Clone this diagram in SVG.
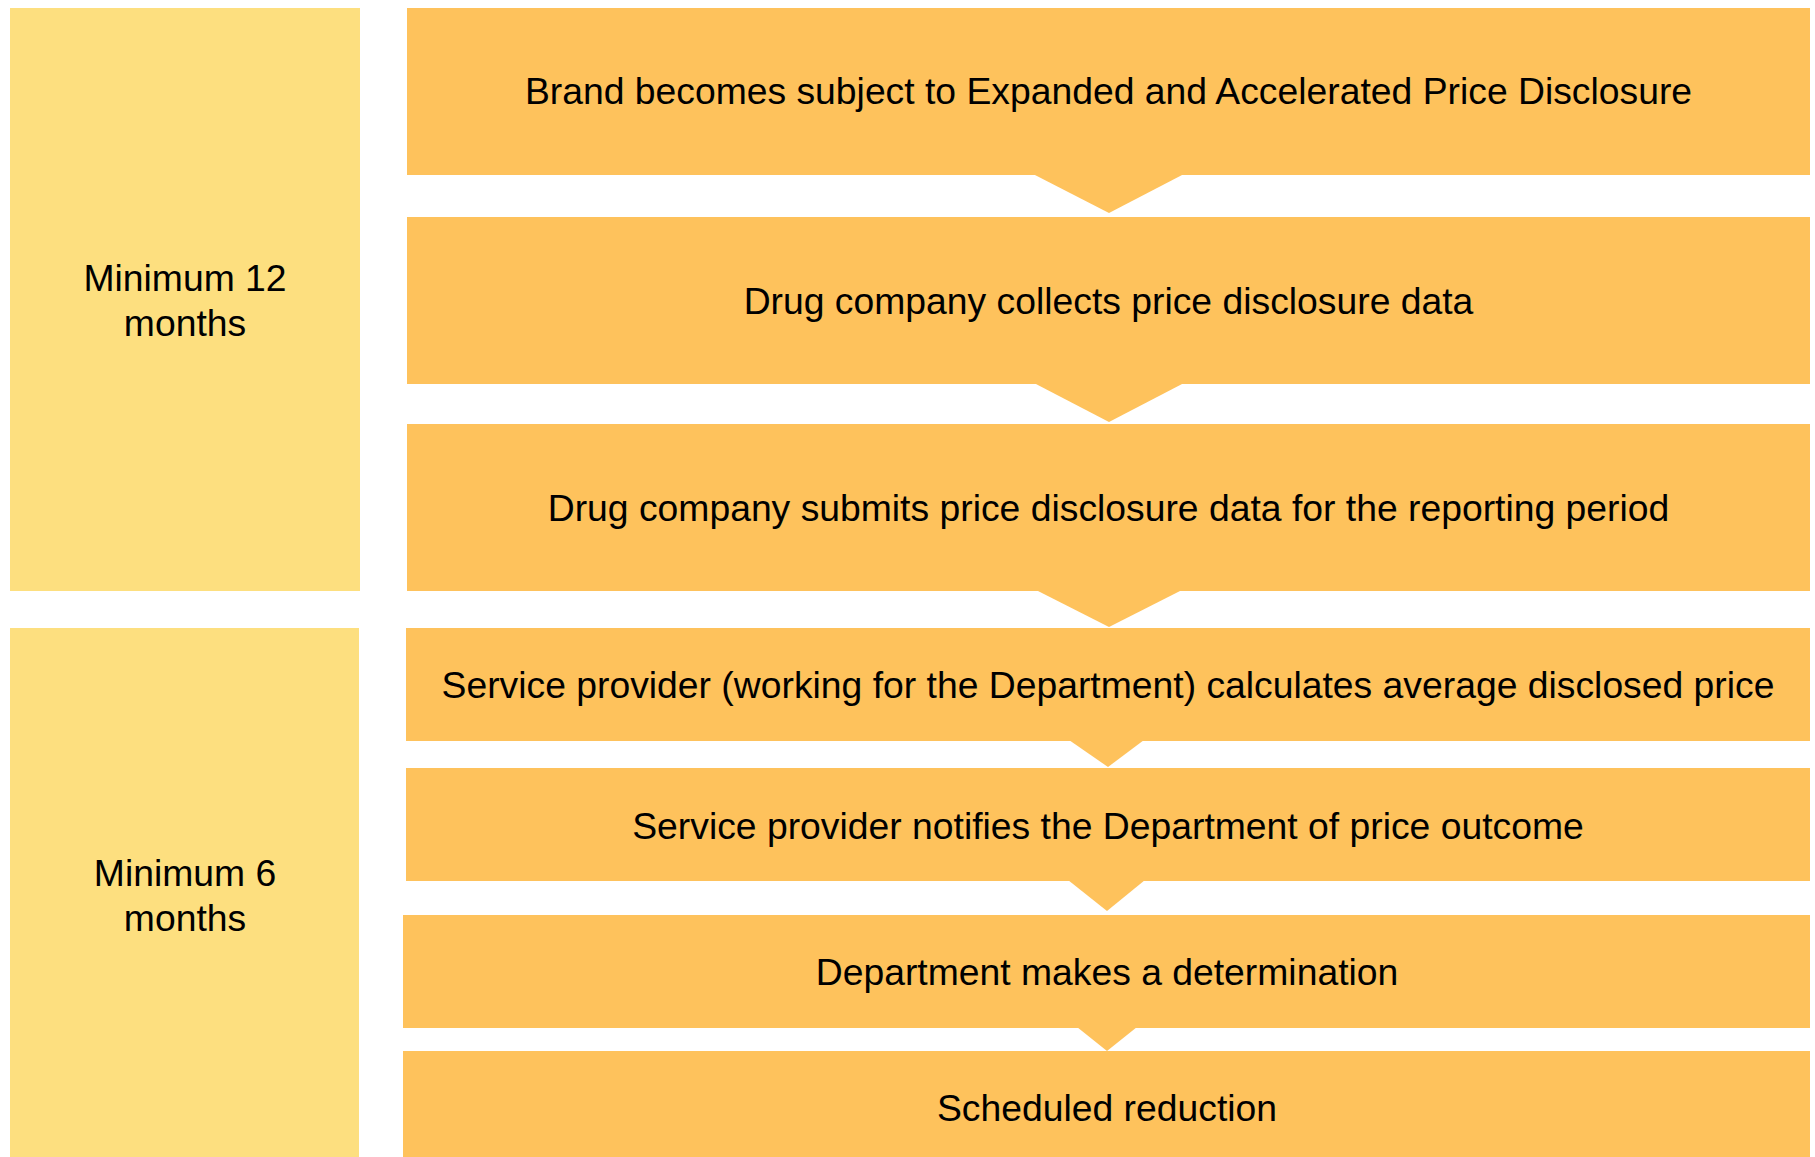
<svg xmlns="http://www.w3.org/2000/svg" width="1815" height="1157" viewBox="0 0 1815 1157">
<style>
.side{fill:#FDDF7F}
.step{fill:#FEC25C}
.chev{fill:#FEC25C}
text{font-family:"Liberation Sans",Arial,sans-serif;font-size:37.3px;fill:#000;text-anchor:middle}
</style>
<rect width="1815" height="1157" fill="#fff"/>
<g id="period-12">
<rect class="side" x="10" y="8" width="350" height="583"/>
<text x="185" y="291">Minimum 12</text>
<text x="185" y="336">months</text>
</g>
<g id="period-6">
<rect class="side" x="10" y="628" width="349" height="529"/>
<text x="185" y="886">Minimum 6</text>
<text x="185" y="931">months</text>
</g>
<g id="step1">
<rect class="step" x="407" y="8" width="1403" height="167"/>
<text x="1108.5" y="104">Brand becomes subject to Expanded and Accelerated Price Disclosure</text>
</g>
<g id="step2">
<rect class="step" x="407" y="217" width="1403" height="167"/>
<text x="1108.5" y="314">Drug company collects price disclosure data</text>
</g>
<g id="step3">
<rect class="step" x="407" y="424" width="1403" height="167"/>
<text x="1108.5" y="521">Drug company submits price disclosure data for the reporting period</text>
</g>
<g id="step4">
<rect class="step" x="406" y="628" width="1404" height="113"/>
<text x="1108" y="698">Service provider (working for the Department) calculates average disclosed price</text>
</g>
<g id="step5">
<rect class="step" x="406" y="768" width="1404" height="113"/>
<text x="1108" y="839">Service provider notifies the Department of price outcome</text>
</g>
<g id="step6">
<rect class="step" x="403" y="915" width="1407" height="113"/>
<text x="1107" y="985">Department makes a determination</text>
</g>
<g id="step7">
<rect class="step" x="403" y="1051" width="1407" height="106"/>
<text x="1107" y="1121">Scheduled reduction</text>
</g>
<g id="connectors">
<polygon class="chev" points="1033,174 1184,174 1109,213"/>
<polygon class="chev" points="1034,383 1184,383 1109,422"/>
<polygon class="chev" points="1036,590 1182,590 1109,627"/>
<polygon class="chev" points="1069,740 1144,740 1108,767"/>
<polygon class="chev" points="1068,880 1145,880 1107,911"/>
<polygon class="chev" points="1077,1027 1137,1027 1107,1051"/>
</g>
</svg>
